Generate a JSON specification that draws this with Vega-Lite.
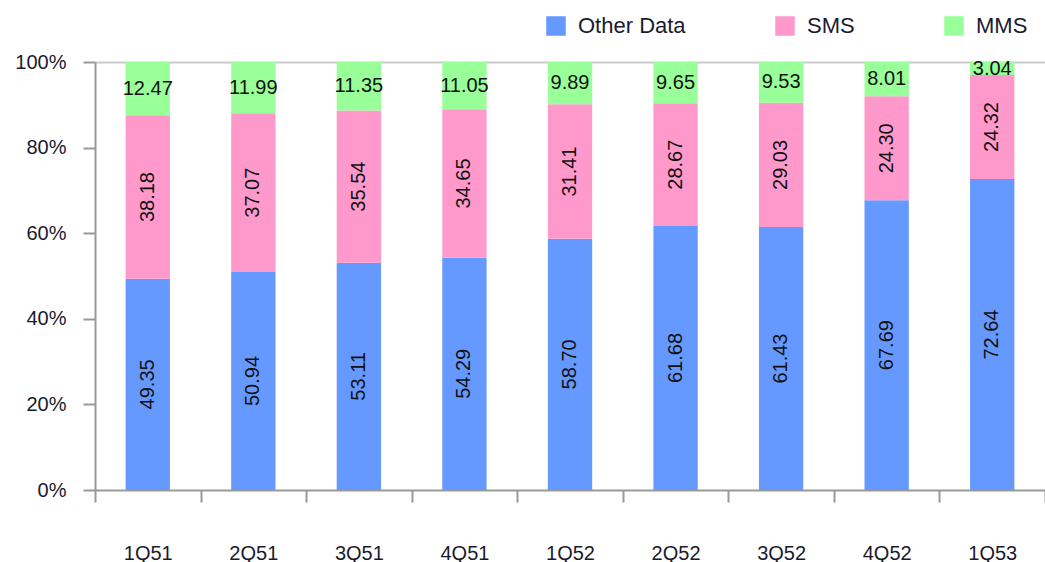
{
  "$schema": "https://vega.github.io/schema/vega-lite/v6.json",
  "width": 950,
  "height": 428,
  "autosize": {"type": "none"},
  "padding": {"left": 95, "top": 62, "right": 0, "bottom": 72},
  "background": "white",
  "config": {
    "view": {"stroke": null},
    "font": "Liberation Sans"
  },
  "data": {
    "values": [
      {"q": "1Q51", "series": "Other Data", "k": 0, "value": 49.35},
      {"q": "1Q51", "series": "SMS", "k": 1, "value": 38.18},
      {"q": "1Q51", "series": "MMS", "k": 2, "value": 12.47},
      {"q": "2Q51", "series": "Other Data", "k": 0, "value": 50.94},
      {"q": "2Q51", "series": "SMS", "k": 1, "value": 37.07},
      {"q": "2Q51", "series": "MMS", "k": 2, "value": 11.99},
      {"q": "3Q51", "series": "Other Data", "k": 0, "value": 53.11},
      {"q": "3Q51", "series": "SMS", "k": 1, "value": 35.54},
      {"q": "3Q51", "series": "MMS", "k": 2, "value": 11.35},
      {"q": "4Q51", "series": "Other Data", "k": 0, "value": 54.29},
      {"q": "4Q51", "series": "SMS", "k": 1, "value": 34.65},
      {"q": "4Q51", "series": "MMS", "k": 2, "value": 11.05},
      {"q": "1Q52", "series": "Other Data", "k": 0, "value": 58.70},
      {"q": "1Q52", "series": "SMS", "k": 1, "value": 31.41},
      {"q": "1Q52", "series": "MMS", "k": 2, "value": 9.89},
      {"q": "2Q52", "series": "Other Data", "k": 0, "value": 61.68},
      {"q": "2Q52", "series": "SMS", "k": 1, "value": 28.67},
      {"q": "2Q52", "series": "MMS", "k": 2, "value": 9.65},
      {"q": "3Q52", "series": "Other Data", "k": 0, "value": 61.43},
      {"q": "3Q52", "series": "SMS", "k": 1, "value": 29.03},
      {"q": "3Q52", "series": "MMS", "k": 2, "value": 9.53},
      {"q": "4Q52", "series": "Other Data", "k": 0, "value": 67.69},
      {"q": "4Q52", "series": "SMS", "k": 1, "value": 24.30},
      {"q": "4Q52", "series": "MMS", "k": 2, "value": 8.01},
      {"q": "1Q53", "series": "Other Data", "k": 0, "value": 72.64},
      {"q": "1Q53", "series": "SMS", "k": 1, "value": 24.32},
      {"q": "1Q53", "series": "MMS", "k": 2, "value": 3.04}
    ]
  },
  "transform": [
    {"stack": "value", "groupby": ["q"], "sort": [{"field": "k", "order": "ascending"}], "as": ["y0", "y1"]},
    {"calculate": "(datum.y0 + datum.y1) / 2", "as": "ymid"}
  ],
  "encoding": {
    "x": {
      "field": "q",
      "type": "nominal",
      "sort": null,
      "scale": {"paddingInner": 0, "paddingOuter": 0},
      "axis": {
        "title": null,
        "labelAngle": 0,
        "tickBand": "extent",
        "tickSize": 12,
        "tickColor": "#999999",
        "tickWidth": 2,
        "domainColor": "#999999",
        "domainWidth": 2,
        "labelPadding": 41,
        "labelFontSize": 20,
        "labelColor": "#1a1a2e",
        "labelFont": "Liberation Sans"
      }
    }
  },
  "layer": [
    {
      "mark": {"type": "bar", "width": {"band": 0.42}},
      "encoding": {
        "y": {
          "field": "y0",
          "type": "quantitative",
          "scale": {"domain": [0, 100], "nice": false},
          "axis": {
            "title": null,
            "values": [0, 20, 40, 60, 80, 100],
            "labelExpr": "datum.value + '%'",
            "tickSize": 12,
            "tickColor": "#999999",
            "tickWidth": 2,
            "domainColor": "#999999",
            "domainWidth": 2,
            "labelPadding": 17,
            "labelFontSize": 20,
            "labelColor": "#1a1a2e",
            "labelFont": "Liberation Sans",
            "grid": true,
            "gridColor": "#cccccc",
            "gridWidth": 2,
            "gridOpacity": {"condition": {"test": "datum.value === 100", "value": 1}, "value": 0}
          }
        },
        "y2": {"field": "y1"},
        "color": {
          "field": "series",
          "type": "nominal",
          "scale": {"domain": ["Other Data", "SMS", "MMS"], "range": ["#6699ff", "#ff99cc", "#99ff99"]},
          "legend": {
            "title": null,
            "orient": "none",
            "direction": "horizontal",
            "legendX": 450,
            "legendY": -47,
            "padding": 0,
            "columnPadding": 88,
            "symbolType": "square",
            "symbolSize": 380,
            "symbolStrokeWidth": 0,
            "labelFontSize": 22,
            "labelFont": "Liberation Sans",
            "labelColor": "#1a1a2e",
            "labelOffset": 11
          }
        }
      }
    },
    {
      "transform": [{"filter": "datum.series !== 'MMS'"}],
      "mark": {"type": "text", "angle": 270, "fontSize": 20, "color": "#111111", "font": "Liberation Sans", "align": "center", "baseline": "middle"},
      "encoding": {
        "y": {"field": "ymid", "type": "quantitative"},
        "text": {"field": "value", "type": "quantitative", "format": ".2f"}
      }
    },
    {
      "transform": [{"filter": "datum.series === 'MMS'"}],
      "mark": {"type": "text", "fontSize": 20, "color": "#111111", "font": "Liberation Sans", "align": "center", "baseline": "middle"},
      "encoding": {
        "y": {"field": "ymid", "type": "quantitative"},
        "text": {"field": "value", "type": "quantitative", "format": ".2f"}
      }
    }
  ]
}
